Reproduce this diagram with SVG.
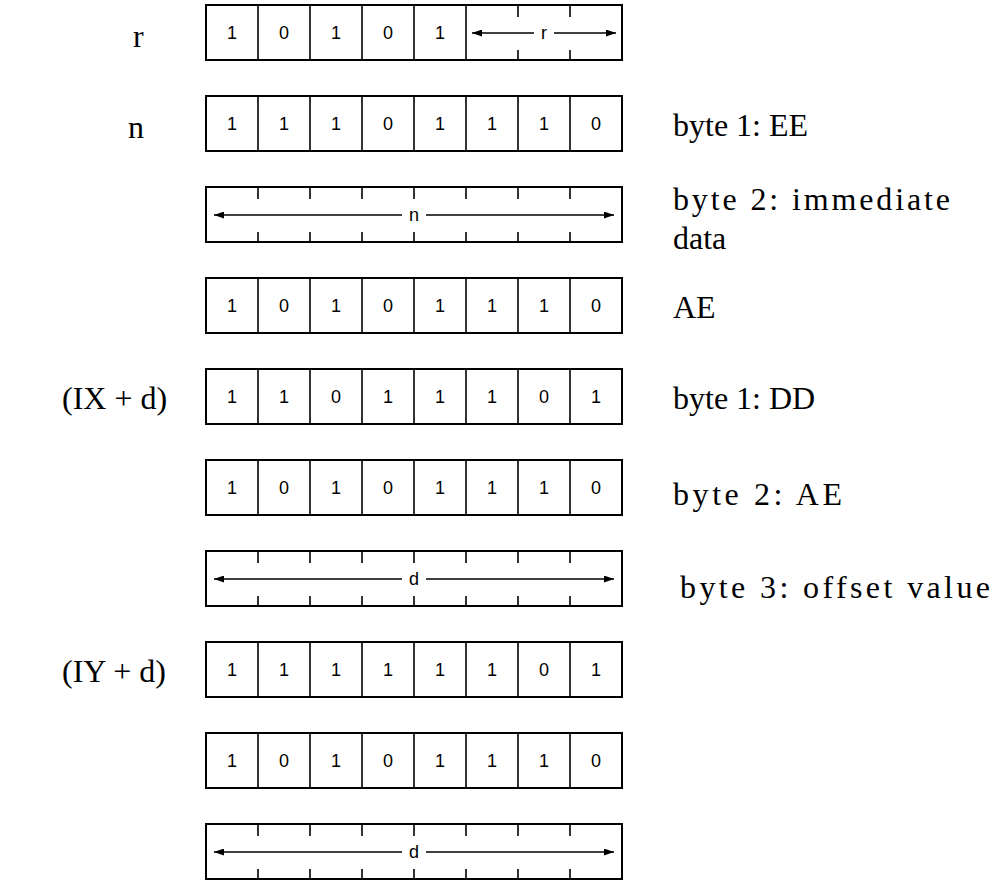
<svg xmlns="http://www.w3.org/2000/svg" width="999" height="888" viewBox="0 0 999 888">
<style>
.box{fill:#fff;stroke:#000;stroke-width:2}
.div{stroke:#000;stroke-width:1.6}
.tick{stroke:#000;stroke-width:1.6}
.arr{stroke:#000;stroke-width:1.5}
.dg{font-family:"Liberation Sans",Arial,sans-serif;font-size:18px;text-anchor:middle;fill:#000}
.lbl{font-family:"Liberation Serif","Times New Roman",serif;font-size:32px;fill:#000}
</style>
<defs>
<marker id="ah" viewBox="0 0 10 7" refX="10" refY="3.5" markerWidth="10" markerHeight="7" markerUnits="userSpaceOnUse" orient="auto-start-reverse"><path d="M0,0 L10,3.5 L0,7 z" fill="#000"/></marker>
<g id="dividers"><line class="div" x1="52" y1="0" x2="52" y2="55"/><line class="div" x1="104" y1="0" x2="104" y2="55"/><line class="div" x1="156" y1="0" x2="156" y2="55"/><line class="div" x1="208" y1="0" x2="208" y2="55"/><line class="div" x1="260" y1="0" x2="260" y2="55"/><line class="div" x1="312" y1="0" x2="312" y2="55"/><line class="div" x1="364" y1="0" x2="364" y2="55"/></g>
<g id="ticks"><line class="tick" x1="52" y1="0" x2="52" y2="12"/><line class="tick" x1="104" y1="0" x2="104" y2="12"/><line class="tick" x1="156" y1="0" x2="156" y2="12"/><line class="tick" x1="208" y1="0" x2="208" y2="12"/><line class="tick" x1="260" y1="0" x2="260" y2="12"/><line class="tick" x1="312" y1="0" x2="312" y2="12"/><line class="tick" x1="364" y1="0" x2="364" y2="12"/><line class="tick" x1="52" y1="45" x2="52" y2="55"/><line class="tick" x1="104" y1="45" x2="104" y2="55"/><line class="tick" x1="156" y1="45" x2="156" y2="55"/><line class="tick" x1="208" y1="45" x2="208" y2="55"/><line class="tick" x1="260" y1="45" x2="260" y2="55"/><line class="tick" x1="312" y1="45" x2="312" y2="55"/><line class="tick" x1="364" y1="45" x2="364" y2="55"/></g>
</defs>

<g id="labels">
<text class="lbl" x="133" y="47">r</text>
<text class="lbl" x="128" y="138">n</text>
<text class="lbl" x="62" y="409">(IX + d)</text>
<text class="lbl" x="62" y="682">(IY + d)</text>
<text class="lbl" x="673" y="136">byte 1: EE</text>
<text class="lbl" x="673" y="210" textLength="277" lengthAdjust="spacing">byte 2: immediate</text>
<text class="lbl" x="673" y="249">data</text>
<text class="lbl" x="673" y="318">AE</text>
<text class="lbl" x="673" y="409">byte 1: DD</text>
<text class="lbl" x="673" y="505" textLength="169" lengthAdjust="spacing">byte 2: AE</text>
<text class="lbl" x="680" y="598" textLength="310" lengthAdjust="spacing">byte 3: offset value</text>
</g>

<g id="row1" transform="translate(206,5)">
<rect class="box" x="0" y="0" width="416" height="55"/>
<line class="div" x1="52" y1="0" x2="52" y2="55"/><line class="div" x1="104" y1="0" x2="104" y2="55"/><line class="div" x1="156" y1="0" x2="156" y2="55"/><line class="div" x1="208" y1="0" x2="208" y2="55"/><line class="div" x1="260" y1="0" x2="260" y2="55"/>
<line class="tick" x1="312" y1="0" x2="312" y2="12"/><line class="tick" x1="364" y1="0" x2="364" y2="12"/><line class="tick" x1="312" y1="45" x2="312" y2="55"/><line class="tick" x1="364" y1="45" x2="364" y2="55"/>
<text class="dg" x="26" y="34">1</text><text class="dg" x="78" y="34">0</text><text class="dg" x="130" y="34">1</text><text class="dg" x="182" y="34">0</text><text class="dg" x="234" y="34">1</text>
<line class="arr" x1="266" y1="28" x2="328" y2="28" marker-start="url(#ah)"/>
<text class="dg" x="338" y="34">r</text>
<line class="arr" x1="348" y1="28" x2="410" y2="28" marker-end="url(#ah)"/>
</g>

<g id="row2" transform="translate(206,96)">
<rect class="box" x="0" y="0" width="416" height="55"/><use href="#dividers"/>
<text class="dg" x="26" y="34">1</text><text class="dg" x="78" y="34">1</text><text class="dg" x="130" y="34">1</text><text class="dg" x="182" y="34">0</text><text class="dg" x="234" y="34">1</text><text class="dg" x="286" y="34">1</text><text class="dg" x="338" y="34">1</text><text class="dg" x="390" y="34">0</text>
</g>

<g id="row3" transform="translate(206,187)">
<rect class="box" x="0" y="0" width="416" height="55"/><use href="#ticks"/>
<line class="arr" x1="8" y1="28" x2="196" y2="28" marker-start="url(#ah)"/>
<text class="dg" x="208" y="34">n</text>
<line class="arr" x1="220" y1="28" x2="408" y2="28" marker-end="url(#ah)"/>
</g>

<g id="row4" transform="translate(206,278)">
<rect class="box" x="0" y="0" width="416" height="55"/><use href="#dividers"/>
<text class="dg" x="26" y="34">1</text><text class="dg" x="78" y="34">0</text><text class="dg" x="130" y="34">1</text><text class="dg" x="182" y="34">0</text><text class="dg" x="234" y="34">1</text><text class="dg" x="286" y="34">1</text><text class="dg" x="338" y="34">1</text><text class="dg" x="390" y="34">0</text>
</g>

<g id="row5" transform="translate(206,369)">
<rect class="box" x="0" y="0" width="416" height="55"/><use href="#dividers"/>
<text class="dg" x="26" y="34">1</text><text class="dg" x="78" y="34">1</text><text class="dg" x="130" y="34">0</text><text class="dg" x="182" y="34">1</text><text class="dg" x="234" y="34">1</text><text class="dg" x="286" y="34">1</text><text class="dg" x="338" y="34">0</text><text class="dg" x="390" y="34">1</text>
</g>

<g id="row6" transform="translate(206,460)">
<rect class="box" x="0" y="0" width="416" height="55"/><use href="#dividers"/>
<text class="dg" x="26" y="34">1</text><text class="dg" x="78" y="34">0</text><text class="dg" x="130" y="34">1</text><text class="dg" x="182" y="34">0</text><text class="dg" x="234" y="34">1</text><text class="dg" x="286" y="34">1</text><text class="dg" x="338" y="34">1</text><text class="dg" x="390" y="34">0</text>
</g>

<g id="row7" transform="translate(206,551)">
<rect class="box" x="0" y="0" width="416" height="55"/><use href="#ticks"/>
<line class="arr" x1="8" y1="28" x2="196" y2="28" marker-start="url(#ah)"/>
<text class="dg" x="208" y="34">d</text>
<line class="arr" x1="220" y1="28" x2="408" y2="28" marker-end="url(#ah)"/>
</g>

<g id="row8" transform="translate(206,642)">
<rect class="box" x="0" y="0" width="416" height="55"/><use href="#dividers"/>
<text class="dg" x="26" y="34">1</text><text class="dg" x="78" y="34">1</text><text class="dg" x="130" y="34">1</text><text class="dg" x="182" y="34">1</text><text class="dg" x="234" y="34">1</text><text class="dg" x="286" y="34">1</text><text class="dg" x="338" y="34">0</text><text class="dg" x="390" y="34">1</text>
</g>

<g id="row9" transform="translate(206,733)">
<rect class="box" x="0" y="0" width="416" height="55"/><use href="#dividers"/>
<text class="dg" x="26" y="34">1</text><text class="dg" x="78" y="34">0</text><text class="dg" x="130" y="34">1</text><text class="dg" x="182" y="34">0</text><text class="dg" x="234" y="34">1</text><text class="dg" x="286" y="34">1</text><text class="dg" x="338" y="34">1</text><text class="dg" x="390" y="34">0</text>
</g>

<g id="row10" transform="translate(206,824)">
<rect class="box" x="0" y="0" width="416" height="55"/><use href="#ticks"/>
<line class="arr" x1="8" y1="28" x2="196" y2="28" marker-start="url(#ah)"/>
<text class="dg" x="208" y="34">d</text>
<line class="arr" x1="220" y1="28" x2="408" y2="28" marker-end="url(#ah)"/>
</g>
</svg>
